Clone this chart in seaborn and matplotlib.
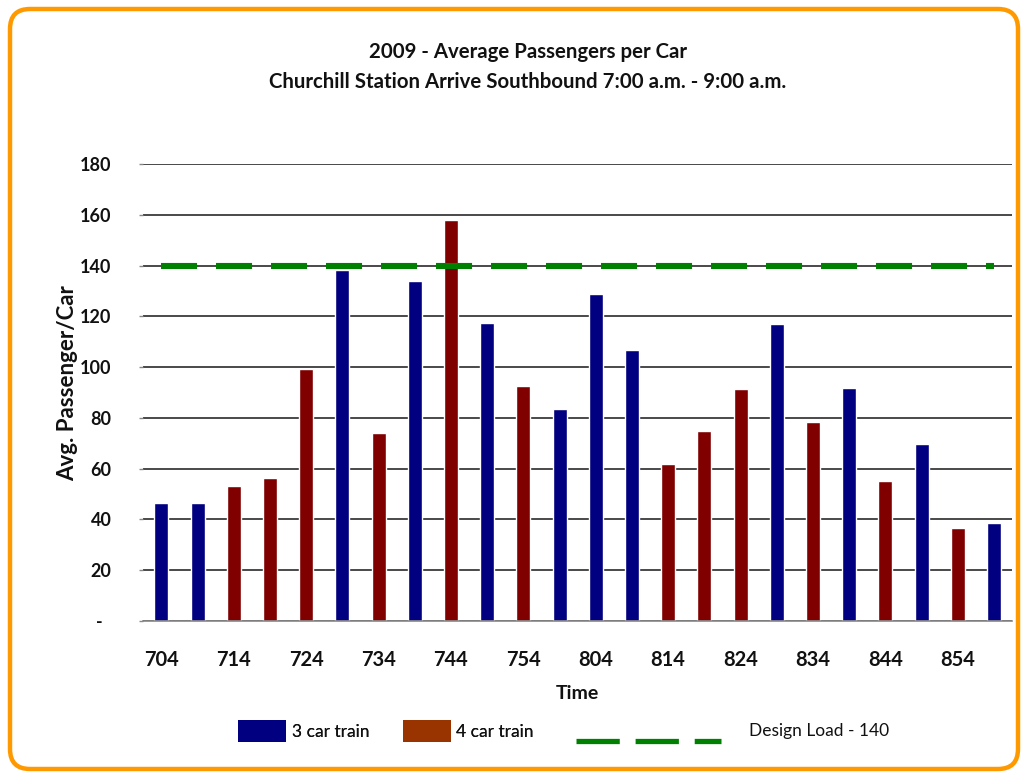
import matplotlib
matplotlib.use("Agg")
import matplotlib.pyplot as plt
import seaborn as sns
import numpy as np
import pandas as pd
from matplotlib.patches import Patch, FancyBboxPatch
from matplotlib.lines import Line2D
from matplotlib.legend_handler import HandlerLine2D

# ---------------- data ----------------
times = ["704", "709", "714", "719", "724", "729", "734", "739", "744", "749", "754", "759",
         "804", "809", "814", "819", "824", "829", "834", "839", "844", "849", "854", "859"]
passengers = [46.3, 46.3, 53.0, 56.2, 99.1, 138.5, 73.9, 134.1, 158.1, 117.6, 92.4, 83.3,
              129.0, 106.6, 61.7, 74.7, 91.2, 117.2, 78.2, 91.6, 55.0, 69.6, 36.5, 38.5]
train_type = ["3 car train", "3 car train", "4 car train", "4 car train", "4 car train", "3 car train",
              "4 car train", "3 car train", "4 car train", "3 car train", "4 car train", "3 car train",
              "3 car train", "3 car train", "4 car train", "4 car train", "4 car train", "3 car train",
              "4 car train", "3 car train", "4 car train", "3 car train", "4 car train", "3 car train"]
design_load = 140
yticks = [0, 20, 40, 60, 80, 100, 120, 140, 160, 180]
ytick_labels = ["-  ", "20", "40", "60", "80", "100", "120", "140", "160", "180"]

title1 = "2009 - Average Passengers per Car"
title2 = "Churchill Station Arrive Southbound 7:00 a.m. - 9:00 a.m."

bar_colors = {"3 car train": "#000080", "4 car train": "#800000"}
legend_colors = {"3 car train": "#000080", "4 car train": "#993300"}
line_color = "#008000"

df = pd.DataFrame({"Time": times, "Passengers": passengers, "Train": train_type})

# ---------------- figure ----------------
sns.set_theme(style="white")
plt.rcParams["font.family"] = ["Lato", "DejaVu Sans"]

W, H = 1028, 776
fig = plt.figure(figsize=(W / 100, H / 100), dpi=100)
fig.patch.set_facecolor("white")

# rounded orange frame
bg = fig.add_axes([0, 0, 1, 1], zorder=-10)
bg.set_xlim(0, W)
bg.set_ylim(H, 0)
bg.axis("off")
bg.add_patch(FancyBboxPatch((10, 9), W - 20, H - 16,
                            boxstyle="round,pad=0,rounding_size=20",
                            fc="white", ec="#FF9900", lw=3.2))

ax_left, ax_right, ax_top, ax_bottom = 143.3, 1012, 164.3, 620.7
ax = fig.add_axes([ax_left / W, 1 - ax_bottom / H, (ax_right - ax_left) / W, (ax_bottom - ax_top) / H])
ax.set_facecolor("none")

sns.barplot(data=df, x="Time", y="Passengers", hue="Train", order=times,
            palette=bar_colors, dodge=False, width=0.387, saturation=1,
            legend=False, ax=ax, zorder=3)

n = len(times)
xpos = np.arange(n)
ax.plot(xpos, np.full(n, design_load), color=line_color, lw=4.4,
        dashes=(5.9, 3.1), solid_capstyle="butt", dash_capstyle="butt", zorder=4)

ax.set_xlim(-0.5, n - 0.5)
ax.set_ylim(0, 180)

# gridlines
ax.set_yticks(yticks, labels=ytick_labels)
ax.yaxis.grid(True, color="#2a2a2a", lw=1.2, zorder=0)
ax.set_axisbelow(True)

# x ticks: boundaries every two categories, labels on every other category
boundaries = np.arange(-0.5, n, 2)
ax.set_xticks(boundaries, labels=[""] * len(boundaries))
ax.set_xticks(xpos[::2], labels=times[::2], minor=True)
ax.tick_params(axis="x", which="major", length=6, width=1, color="#888888", direction="out")
ax.tick_params(axis="x", which="minor", length=0, pad=21, labelsize=14.5)
for lab in ax.get_xticklabels(minor=True):
    lab.set_fontweight("bold")
    lab.set_color("#111111")

ax.tick_params(axis="y", length=3, width=1, color="#888888", left=True, pad=20, labelsize=13)
for lab in ax.get_yticklabels():
    lab.set_fontweight("bold")
    lab.set_color("#111111")

for side in ["top", "right", "left"]:
    ax.spines[side].set_visible(False)
ax.spines["bottom"].set_color("#888888")
ax.spines["bottom"].set_linewidth(1.2)
ax.spines["bottom"].set_zorder(5)

ax.set_xlabel("Time", fontsize=14, fontweight="bold", color="#111111")
ax.xaxis.set_label_coords((577.5 - ax_left) / (ax_right - ax_left), (ax_bottom - 685) / (ax_bottom - ax_top))
ax.set_ylabel("Avg. Passenger/Car", fontsize=16, fontweight="bold", color="#111111")
ax.yaxis.label.set_va("center")
ax.yaxis.set_label_coords((68 - ax_left) / (ax_right - ax_left), (ax_bottom - 383) / (ax_bottom - ax_top))

# titles
fig.text(528 / W, 1 - 58.5 / H, title1, ha="center", va="baseline",
         fontsize=14.7, fontweight="bold", color="#111111")
fig.text(528 / W, 1 - 88.5 / H, title2, ha="center", va="baseline",
         fontsize=14.7, fontweight="bold", color="#111111")


class LoweredLine(HandlerLine2D):
    def create_artists(self, legend, orig_handle, xdescent, ydescent, width, height, fontsize, trans):
        arts = super().create_artists(legend, orig_handle, xdescent, ydescent, width, height, fontsize, trans)
        for a in arts:
            a.set_ydata(np.asarray(a.get_ydata()) - 8)
        return arts


# legends
fs = 12.5
fs_px = fs * 100 / 72
handles = [Patch(facecolor=legend_colors[k], edgecolor="none", label=k) for k in ["3 car train", "4 car train"]]
leg1 = fig.legend(handles=handles, loc="center left", bbox_to_anchor=(238 / W, 1 - 731 / H),
                  ncol=2, frameon=False, fontsize=fs, borderpad=0, borderaxespad=0,
                  handlelength=48 / fs_px, handleheight=26 / fs_px, handletextpad=6 / fs_px,
                  columnspacing=33 / fs_px)
for t in leg1.get_texts():
    t.set_color("#111111")
line_handle = Line2D([], [], color=line_color, lw=3.8, dashes=(8.2, 3.0), dash_capstyle="butt",
                     label="Design Load - 140")
leg2 = fig.legend(handles=[line_handle], loc="center left", bbox_to_anchor=(576 / W, 1 - 731 / H),
                  frameon=False, fontsize=fs, borderpad=0, borderaxespad=0,
                  handlelength=145 / fs_px, handletextpad=28 / fs_px,
                  handler_map={Line2D: LoweredLine()})
for t in leg2.get_texts():
    t.set_color("#111111")
fig.add_artist(leg1)

fig.savefig("out.png", dpi=100)
